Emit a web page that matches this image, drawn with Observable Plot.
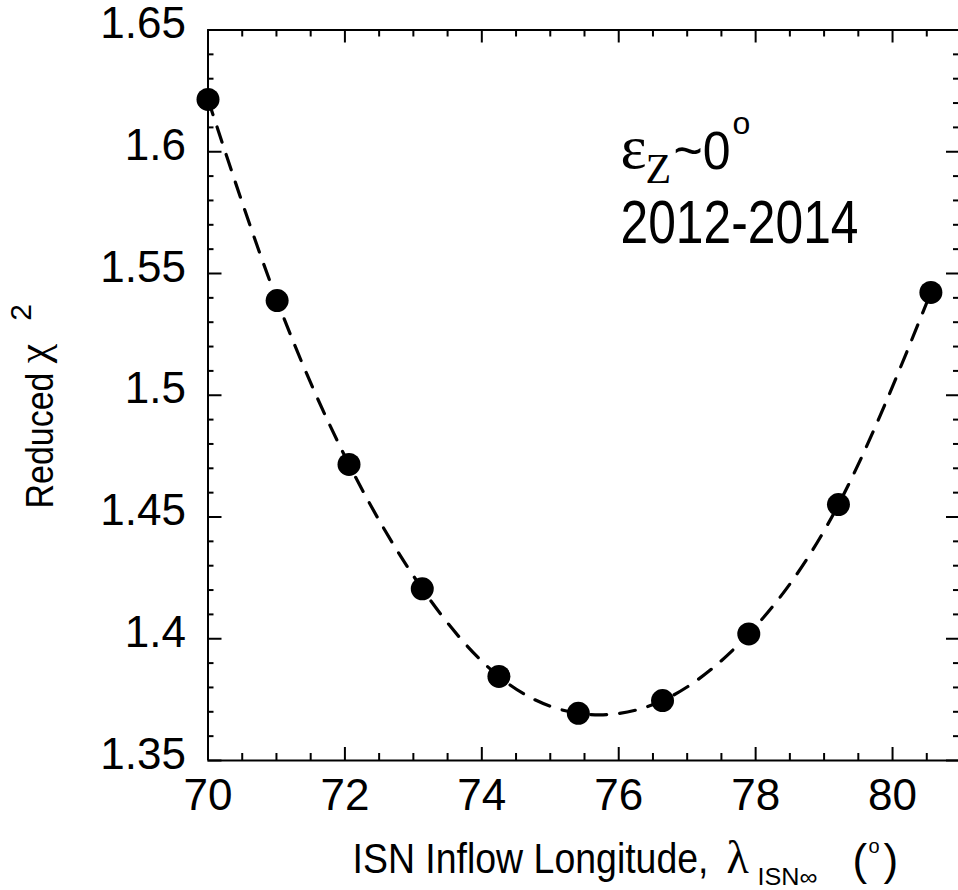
<!DOCTYPE html>
<html>
<head>
<meta charset="utf-8">
<script src="https://cdn.jsdelivr.net/npm/d3@7"></script>
<script src="https://cdn.jsdelivr.net/npm/@observablehq/plot@0.6"></script>
<style>
  html, body { margin: 0; padding: 0; background: #fff; }
  svg { display: block; }
</style>
</head>
<body>
<div id="chart"></div>
<script>
// ---- data ----
const longitude = [70.0, 71.01, 72.06, 73.13, 74.25, 75.41, 76.64, 77.90, 79.21, 80.56];
const chi2 = [1.6215, 1.5389, 1.4716, 1.4205, 1.3845, 1.3694, 1.3746, 1.4020, 1.4551, 1.5422];

// ---- ticks ----
const xMajorTicks = [70, 72, 74, 76, 78, 80];
const xMinorTicks = [70.5, 71, 71.5, 72.5, 73, 73.5, 74.5, 75, 75.5, 76.5, 77, 77.5, 78.5, 79, 79.5, 80.5];
const yMajorTicks = [1.35, 1.4, 1.45, 1.5, 1.55, 1.6, 1.65];
const yMinorTicks = [1.36, 1.37, 1.38, 1.39, 1.41, 1.42, 1.43, 1.44, 1.46, 1.47, 1.48, 1.49,
                     1.51, 1.52, 1.53, 1.54, 1.56, 1.57, 1.58, 1.59, 1.61, 1.62, 1.63, 1.64];

const xLabel = "ISN Inflow Longitude,";
const xLabelSub = "ISN\u221E";
const yLabel = "Reduced";
const annotYears = "2012-2014";
const annotTilde = "~0";

const points = longitude.map((x, i) => ({x, y: chi2[i]}));

const W = 958, H = 890;
const mL = 207.5, mT = 29.5, mB = 130, mR = 0;
const frameH = H - mT - mB;      // 730.5
const frameW = W - mL - mR;      // 750.5
const majLen = 13, minLen = 7;
const bottomY = H - mB;          // 760
const midY = mT + frameH / 2;

const sans = "'Liberation Sans', Arial, sans-serif";
const serif = "'Liberation Serif', 'Times New Roman', serif";

// condensed widths (the reference uses a narrow sans face)
const textWidths = {[xLabel]: 356, [annotYears]: 238, [annotTilde]: 57, [yLabel]: 136, [xLabelSub]: 60};

const tx = (text, o) => Plot.text([text], {textAnchor: "start", lineAnchor: "bottom", fill: "black", fontFamily: sans, ...o});

const chart = Plot.plot({
  width: W, height: H,
  marginLeft: mL, marginRight: mR, marginTop: mT, marginBottom: mB,
  style: {fontFamily: sans, background: "white", color: "black", overflow: "visible"},
  x: {domain: [70, 81], range: [mL, 960.5]},
  y: {domain: [1.35, 1.65]},
  marks: [
    // tick labels
    Plot.axisX(xMajorTicks, {tickSize: 0, tickPadding: 18, fontSize: 44, label: null, tickFormat: d => String(d), fill: "black"}),
    Plot.axisY(yMajorTicks, {tickSize: 0, tickPadding: 22, fontSize: 44, label: null, dy: -6, tickFormat: d => String(+d.toFixed(2)), fill: "black"}),
    // inward ticks: bottom / top
    Plot.tickX(xMajorTicks, {x: d => d, insetTop: frameH - majLen, strokeWidth: 2, stroke: "black"}),
    Plot.tickX(xMinorTicks, {x: d => d, insetTop: frameH - minLen, strokeWidth: 2, stroke: "black"}),
    Plot.tickX(xMajorTicks, {x: d => d, insetBottom: frameH - majLen, strokeWidth: 2, stroke: "black"}),
    Plot.tickX(xMinorTicks, {x: d => d, insetBottom: frameH - minLen, strokeWidth: 2, stroke: "black"}),
    // inward ticks: left / right
    Plot.tickY(yMajorTicks, {y: d => d, insetRight: frameW - 14, strokeWidth: 2, stroke: "black"}),
    Plot.tickY(yMinorTicks, {y: d => d, insetRight: frameW - 6, strokeWidth: 2, stroke: "black"}),
    Plot.tickY(yMajorTicks, {y: d => d, insetLeft: frameW - 12, strokeWidth: 2, stroke: "black"}),
    Plot.tickY(yMinorTicks, {y: d => d, insetLeft: frameW - 5, strokeWidth: 2, stroke: "black"}),
    // frame
    Plot.ruleX([70, 81], {strokeWidth: 2, stroke: "black"}),
    Plot.ruleY([1.35, 1.65], {strokeWidth: 2, stroke: "black"}),
    // fitted dashed curve and data
    Plot.line(points, {x: "x", y: "y", curve: "natural", stroke: "black", strokeWidth: 3.2, strokeDasharray: "16,13"}),
    Plot.dot(points, {x: "x", y: "y", r: 11.5, fill: "black", stroke: "none"}),
    // annotation
    tx("\u03B5", {frameAnchor: "top-left", dx: 620 - mL, dy: 167 - mT, fontSize: 62, fontFamily: serif}),
    tx("Z", {frameAnchor: "top-left", dx: 645 - mL, dy: 182 - mT, fontSize: 42, fontFamily: serif}),
    tx(annotTilde, {frameAnchor: "top-left", dx: 673 - mL, dy: 168 - mT, fontSize: 54}),
    tx("o", {frameAnchor: "top-left", dx: 732 - mL, dy: 133 - mT, fontSize: 32}),
    tx(annotYears, {frameAnchor: "top-left", dx: 620 - mL, dy: 242 - mT, fontSize: 61}),
    // x-axis title
    tx(xLabel, {frameAnchor: "bottom-left", dx: 352 - mL, dy: 872 - bottomY, fontSize: 43}),
    tx("\u03BB", {frameAnchor: "bottom-left", dx: 726 - mL, dy: 872 - bottomY, fontSize: 46, fontFamily: serif}),
    tx(xLabelSub, {frameAnchor: "bottom-left", dx: 757 - mL, dy: 884 - bottomY, fontSize: 23}),
    tx("(", {frameAnchor: "bottom-left", dx: 852 - mL, dy: 874 - bottomY, fontSize: 44, fontWeight: 300}),
    tx("o", {frameAnchor: "bottom-left", dx: 868 - mL, dy: 852 - bottomY, fontSize: 20}),
    tx(")", {frameAnchor: "bottom-left", dx: 883 - mL, dy: 874 - bottomY, fontSize: 44, fontWeight: 300}),
    // y-axis title (rotated)
    tx(yLabel, {frameAnchor: "left", dx: 52 - mL, dy: 440 - midY, rotate: -90, textAnchor: "middle", fontSize: 39}),
    tx("\u03C7", {frameAnchor: "left", dx: 47 - mL, dy: 353 - midY, rotate: -90, textAnchor: "middle", fontSize: 44, fontFamily: serif}),
    tx("2", {frameAnchor: "left", dx: 30 - mL, dy: 312 - midY, rotate: -90, textAnchor: "middle", fontSize: 30})
  ]
});

d3.select(chart).selectAll("text").each(function () {
  const w = textWidths[this.textContent];
  if (w) {
    this.setAttribute("textLength", w);
    this.setAttribute("lengthAdjust", "spacingAndGlyphs");
  }
});

document.getElementById("chart").appendChild(chart);
</script>
</body>
</html>
